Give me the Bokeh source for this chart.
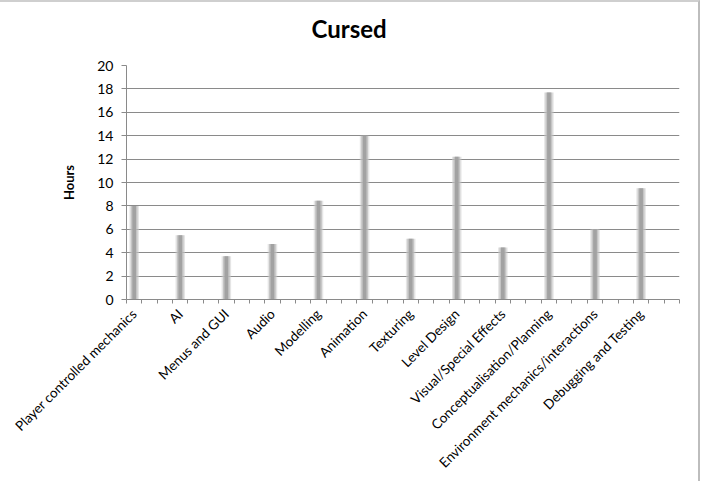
import math
from bokeh.plotting import figure
from bokeh.models import FixedTicker, Range1d, Title
from bokeh.embed import file_html
from bokeh.resources import INLINE

categories = [
    "Player controlled mechanics", "AI", "Menus and GUI", "Audio", "Modelling",
    "Animation", "Texturing", "Level Design", "Visual/Special Effects",
    "Conceptualisation/Planning", "Environment mechanics/interactions",
    "Debugging and Testing",
]
hours = [8.0, 5.5, 3.7, 4.75, 8.45, 14.0, 5.2, 12.2, 4.45, 17.7, 6.0, 9.5]
y_ticks = [0, 2, 4, 6, 8, 10, 12, 14, 16, 18, 20]
slots_per_category = 3

n_slots = len(categories) * slots_per_category
xs = [i * slots_per_category + 0.5 for i in range(len(categories))]

p = figure(
    width=700, height=481,
    x_range=Range1d(0, n_slots), y_range=Range1d(0, 20),
    output_backend="svg", toolbar_location=None,
    min_border_left=126, min_border_right=21,
    min_border_top=63, min_border_bottom=184,
)
p.styles = {"border-top": "2px solid #cfcfcf", "border-right": "2px solid #bdbdbd"}
p.outline_line_color = None
p.background_fill_color = "white"
p.border_fill_color = "white"

# spacer panel between frame and title
p.add_layout(Title(text=" ", text_font_size="1px", standoff=19), "above")
p.add_layout(Title(text="Cursed", align="left", offset=185, text_font="Lato",
                   text_font_size="24px", text_font_style="bold",
                   text_color="#000000", standoff=2), "above")

# blurred-looking thin bars
p.vbar(x=xs, top=hours, width=0.62, bottom=0, fill_color="#cccccc", fill_alpha=0.5, line_color=None)
p.vbar(x=xs, top=hours, width=0.44, bottom=0, fill_color="#b6b6b6", fill_alpha=0.7, line_color=None)
p.vbar(x=xs, top=hours, width=0.24, bottom=0, fill_color="#a2a2a2", fill_alpha=1.0, line_color=None)

grid_color = "#8a8a8a"
p.xgrid.visible = False
p.ygrid.ticker = FixedTicker(ticks=y_ticks)
p.ygrid.grid_line_color = grid_color
p.ygrid.grid_line_width = 1

ya = p.yaxis[0]
ya.ticker = FixedTicker(ticks=y_ticks)
ya.axis_line_color = grid_color
ya.major_tick_line_color = grid_color
ya.major_tick_out = 5
ya.major_tick_in = 0
ya.minor_tick_line_color = None
ya.major_label_text_font = "Lato"
ya.major_label_text_font_size = "14px"
ya.major_label_text_color = "#000000"
ya.major_label_standoff = 8
ya.axis_label = "Hours"
ya.axis_label_text_font = "Lato"
ya.axis_label_text_font_size = "13px"
ya.axis_label_text_font_style = "bold"
ya.axis_label_text_color = "#000000"
ya.axis_label_standoff = 17

xa = p.xaxis[0]
xa.ticker = FixedTicker(ticks=xs, minor_ticks=list(range(n_slots + 1)))
xa.major_label_overrides = {x: c for x, c in zip(xs, categories)}
xa.axis_line_color = grid_color
xa.major_tick_line_color = None
xa.minor_tick_line_color = grid_color
xa.minor_tick_out = 4
xa.minor_tick_in = 0
xa.major_label_orientation = math.pi / 4
xa.major_label_text_font = "Lato"
xa.major_label_text_font_size = "13.5px"
xa.major_label_text_color = "#000000"
xa.major_label_standoff = 6

open("out.html", "w").write(file_html(p, INLINE))
